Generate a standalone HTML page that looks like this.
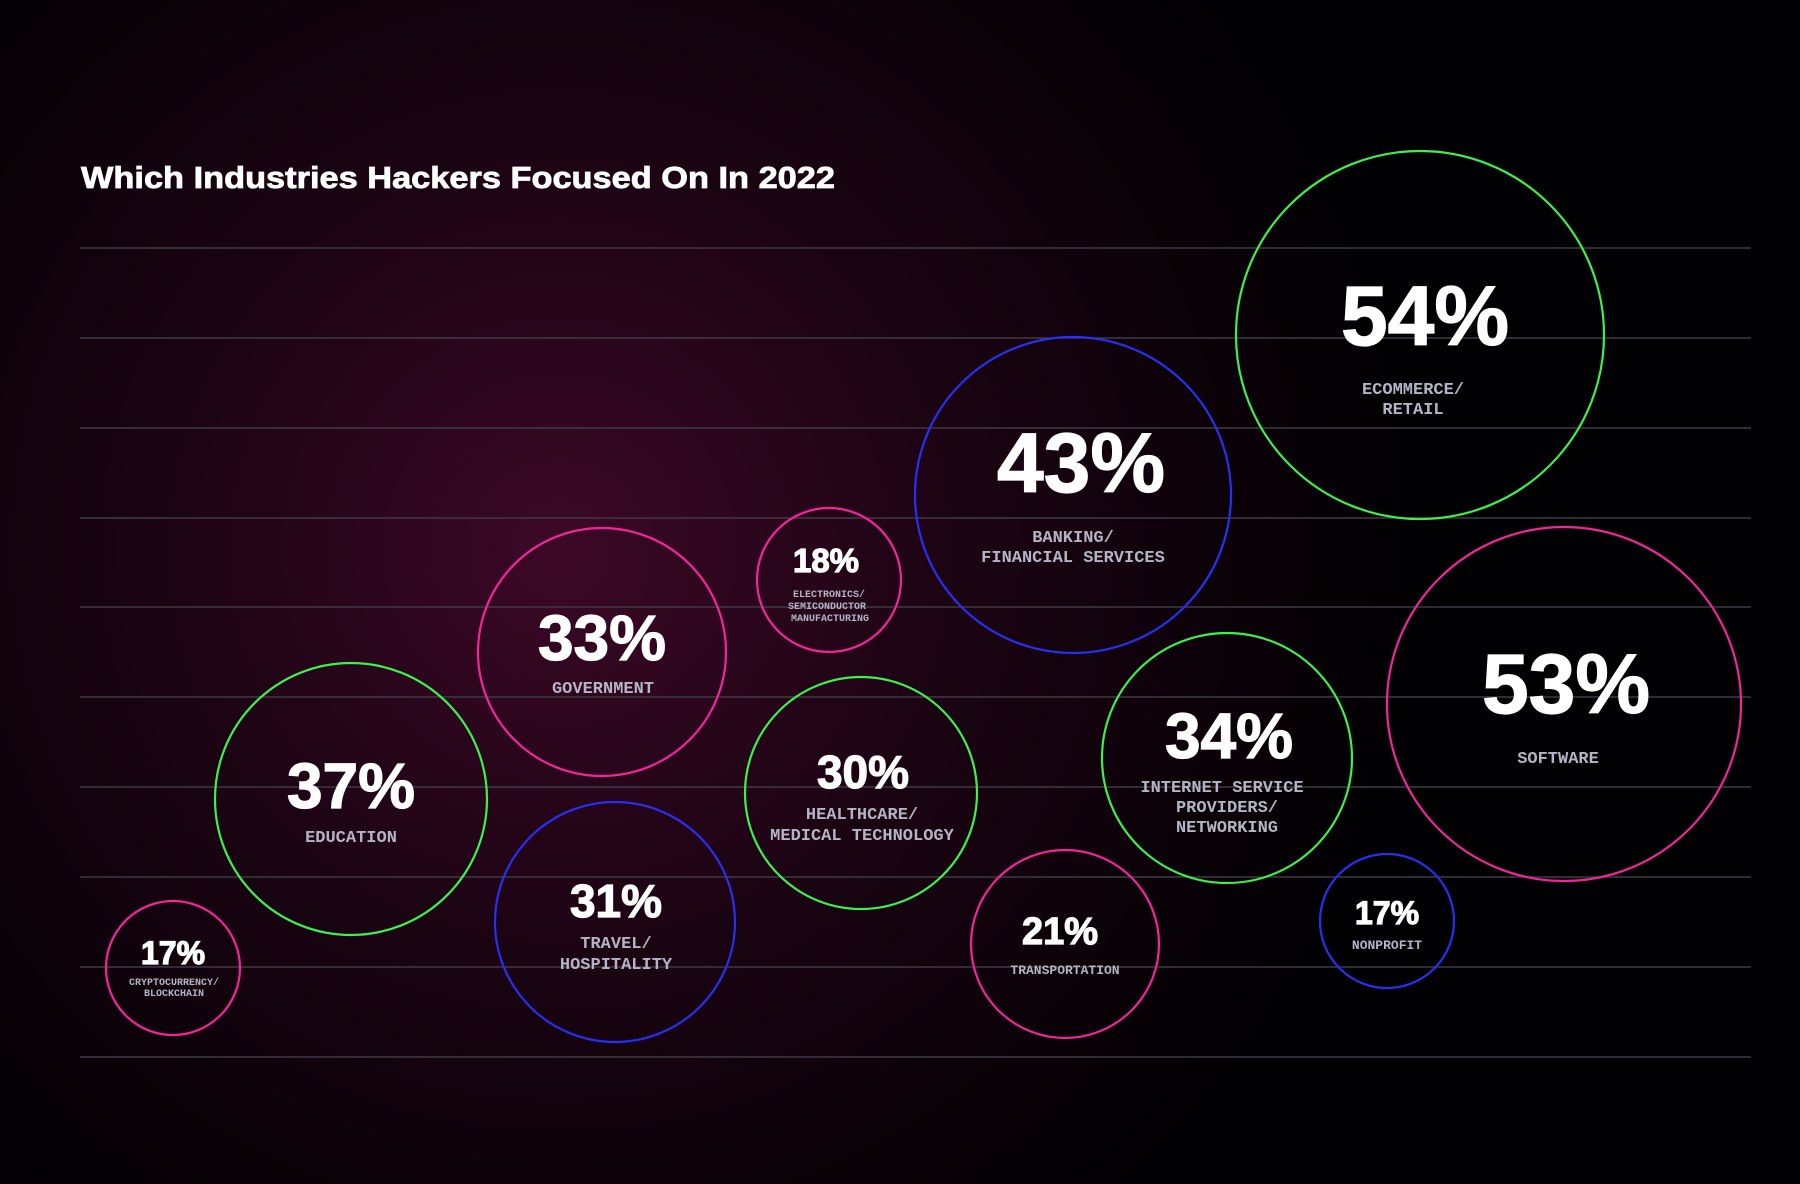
<!DOCTYPE html>
<html><head><meta charset="utf-8"><style>
html,body{margin:0;padding:0;background:#000;}
svg{display:block}
.p{font-family:"Liberation Sans",sans-serif;font-weight:bold;fill:#fff;text-anchor:middle;stroke:#fff;stroke-width:1.2}
.l{font-family:"Liberation Mono",monospace;font-weight:bold;fill:#b4b4c4;text-anchor:middle}
</style></head><body>
<svg width="1800" height="1184" viewBox="0 0 1800 1184" xmlns="http://www.w3.org/2000/svg">
<defs>
<radialGradient id="bg" cx="560" cy="550" r="850" gradientUnits="userSpaceOnUse">
<stop offset="0" stop-color="#3c0826"/>
<stop offset="0.45" stop-color="#1c0413"/>
<stop offset="1" stop-color="#010002"/>
</radialGradient>
</defs>
<rect width="1800" height="1184" fill="url(#bg)"/>
<g stroke="#3e3a44" stroke-width="1.5">
<line x1="80" x2="1751" y1="248" y2="248"/>
<line x1="80" x2="1751" y1="338" y2="338"/>
<line x1="80" x2="1751" y1="428" y2="428"/>
<line x1="80" x2="1751" y1="518" y2="518"/>
<line x1="80" x2="1751" y1="607" y2="607"/>
<line x1="80" x2="1751" y1="697" y2="697"/>
<line x1="80" x2="1751" y1="787" y2="787"/>
<line x1="80" x2="1751" y1="877" y2="877"/>
<line x1="80" x2="1751" y1="967" y2="967"/>
<line x1="80" x2="1751" y1="1057" y2="1057"/>
</g>
<text x="81" y="188" font-family="Liberation Sans,sans-serif" font-weight="bold" font-size="31" fill="#fff" stroke="#fff" stroke-width="0.8" textLength="754" lengthAdjust="spacingAndGlyphs">Which Industries Hackers Focused On In 2022</text>
<g fill="none" stroke-width="2.2">
<circle cx="1420" cy="335" r="184" stroke="#3ef04a"/>
<circle cx="1073" cy="495" r="158" stroke="#2a2ef0"/>
<circle cx="829" cy="580" r="72" stroke="#f0269a"/>
<circle cx="602" cy="652" r="124" stroke="#f0269a"/>
<circle cx="351" cy="799" r="136" stroke="#3ef04a"/>
<circle cx="861" cy="793" r="116" stroke="#3ef04a"/>
<circle cx="615" cy="922" r="120" stroke="#2a2ef0"/>
<circle cx="173" cy="968" r="67" stroke="#f0269a"/>
<circle cx="1227" cy="758" r="125" stroke="#3ef04a"/>
<circle cx="1564" cy="704" r="177" stroke="#f0269a"/>
<circle cx="1065" cy="944" r="94" stroke="#f0269a"/>
<circle cx="1387" cy="921" r="67" stroke="#2a2ef0"/>
</g>
<text class="p" x="1425" y="345" font-size="84">54%</text>
<text class="l" x="1413" y="394" font-size="17">ECOMMERCE/</text>
<text class="l" x="1413" y="414" font-size="17">RETAIL</text>

<text class="p" x="1081" y="492" font-size="84">43%</text>
<text class="l" x="1073" y="542" font-size="17">BANKING/</text>
<text class="l" x="1073" y="562" font-size="17">FINANCIAL SERVICES</text>

<text class="p" x="826" y="572" font-size="33">18%</text>
<text class="l" x="829" y="597" font-size="10">ELECTRONICS/</text>
<text class="l" x="827" y="609" font-size="10">SEMICONDUCTOR</text>
<text class="l" x="830" y="621" font-size="10">MANUFACTURING</text>

<text class="p" x="602" y="660" font-size="64">33%</text>
<text class="l" x="603" y="693" font-size="17">GOVERNMENT</text>

<text class="p" x="351" y="808" font-size="64">37%</text>
<text class="l" x="351" y="842" font-size="17">EDUCATION</text>

<text class="p" x="863" y="788" font-size="46">30%</text>
<text class="l" x="862" y="819" font-size="17">HEALTHCARE/</text>
<text class="l" x="862" y="840" font-size="17">MEDICAL TECHNOLOGY</text>

<text class="p" x="616" y="917" font-size="46">31%</text>
<text class="l" x="616" y="948" font-size="17">TRAVEL/</text>
<text class="l" x="616" y="969" font-size="17">HOSPITALITY</text>

<text class="p" x="173" y="964" font-size="32">17%</text>
<text class="l" x="174" y="985" font-size="10">CRYPTOCURRENCY/</text>
<text class="l" x="174" y="996" font-size="10">BLOCKCHAIN</text>

<text class="p" x="1229" y="758" font-size="64">34%</text>
<text class="l" x="1222" y="792" font-size="17">INTERNET SERVICE</text>
<text class="l" x="1227" y="812" font-size="17">PROVIDERS/</text>
<text class="l" x="1227" y="832" font-size="17">NETWORKING</text>

<text class="p" x="1566" y="713" font-size="84">53%</text>
<text class="l" x="1558" y="763" font-size="17">SOFTWARE</text>

<text class="p" x="1060" y="944" font-size="38">21%</text>
<text class="l" x="1065" y="974" font-size="13">TRANSPORTATION</text>

<text class="p" x="1387" y="924" font-size="32">17%</text>
<text class="l" x="1387" y="949" font-size="13">NONPROFIT</text>
</svg>
</body></html>
